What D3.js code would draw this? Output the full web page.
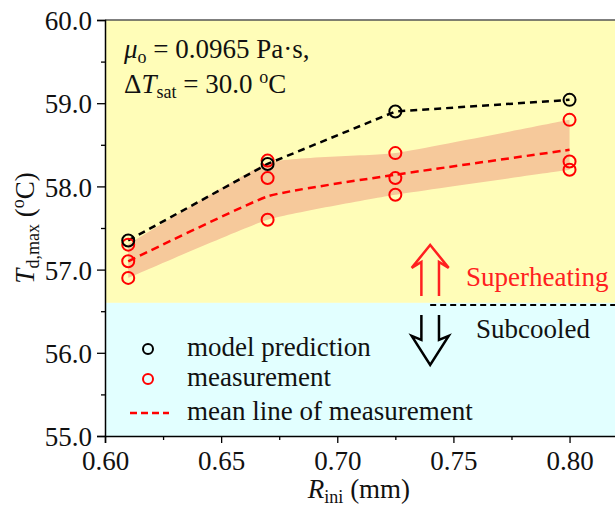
<!DOCTYPE html>
<html>
<head>
<meta charset="utf-8">
<script src="https://cdn.jsdelivr.net/npm/d3@7"></script>
<style>
  html, body { margin: 0; padding: 0; background: #ffffff; }
  svg { display: block; }
</style>
</head>
<body>
<svg id="chart" width="615" height="520"></svg>
<script>
// ---- data ----
const radius = [0.61, 0.67, 0.725, 0.80];            // R_ini (mm)
const modelPrediction = [57.35, 58.27, 58.90, 59.04]; // T_d,max model
const measurementHigh = [57.30, 58.31, 58.40, 58.80];
const measurementMid  = [57.10, 58.10, 58.10, 58.30];
const measurementLow  = [56.90, 57.60, 57.90, 58.20];
const meanLine  = [57.10, 57.88, 58.14, 58.44];
const bandUpper = [57.30, 58.28, 58.40, 58.80];
const bandLower = [56.90, 57.60, 57.90, 58.20];
const superheatLimit = 56.6;     // boundary between regions
const arrowR = 0.74;             // arrow position
const yTicks = [55, 56, 57, 58, 59, 60];
const yMinorTicks = [55.5, 56.5, 57.5, 58.5, 59.5];
const xTicks = [0.60, 0.65, 0.70, 0.75, 0.80];
const xMinorTicks = [0.625, 0.675, 0.725, 0.775];
const legendLabels = ["model prediction", "measurement", "mean line of measurement"];

(function () {
const svg = d3.select("#chart");
const pL = 105, pR = 616, pT = 20, pB = 436;
const x = d3.scaleLinear().domain([0.60, 0.82]).range([pL, pR]);
const y = d3.scaleLinear().domain([55, 60]).range([pB, pT]);
const FONT = 27, SUB = 18;
const SERIF = '"Liberation Serif", "Times New Roman", serif';
const smooth = d3.curveCardinal.tension(0.6);

// background regions
svg.append("rect").attr("x", pL).attr("y", y(60))
  .attr("width", pR - pL).attr("height", y(superheatLimit) - y(60))
  .attr("fill", "#FFFDB8");
svg.append("rect").attr("x", pL).attr("y", y(superheatLimit))
  .attr("width", pR - pL).attr("height", y(55) - y(superheatLimit))
  .attr("fill", "#E2FFFF");

// band
const band = d3.area().curve(smooth)
  .x((d, i) => x(radius[i]))
  .y0((d, i) => y(bandLower[i]))
  .y1((d, i) => y(bandUpper[i]));
svg.append("path").datum(radius).attr("d", band).attr("fill", "#F6C99B");

// model line
const lineModel = d3.line().x((d, i) => x(radius[i])).y(d => y(d));
svg.append("path").datum(modelPrediction).attr("d", lineModel)
  .attr("fill", "none").attr("stroke", "#000").attr("stroke-width", 2.5)
  .attr("stroke-dasharray", "7,5");

// mean line
const lineMean = d3.line().curve(smooth).x((d, i) => x(radius[i])).y(d => y(d));
svg.append("path").datum(meanLine).attr("d", lineMean)
  .attr("fill", "none").attr("stroke", "#FF0000").attr("stroke-width", 2.5)
  .attr("stroke-dasharray", "8,5");

// measurement circles
[measurementHigh, measurementMid, measurementLow].forEach(series => {
  svg.append("g").selectAll("circle").data(series).join("circle")
    .attr("cx", (d, i) => x(radius[i])).attr("cy", d => y(d)).attr("r", 6)
    .attr("fill", "none").attr("stroke", "#FF0000").attr("stroke-width", 2);
});
// model circles
svg.append("g").selectAll("circle").data(modelPrediction).join("circle")
  .attr("cx", (d, i) => x(radius[i])).attr("cy", d => y(d)).attr("r", 6)
  .attr("fill", "none").attr("stroke", "#000").attr("stroke-width", 2);

// dashed boundary marker + arrows
const yb = y(superheatLimit);
svg.append("line").attr("x1", x(arrowR)).attr("x2", pR).attr("y1", yb + 2).attr("y2", yb + 2)
  .attr("stroke", "#000").attr("stroke-width", 2).attr("stroke-dasharray", "6,4");
const ax = x(arrowR);
const upArrow = [[-8.8, yb - 7], [-8.8, yb - 41], [-18.5, yb - 35], [0, yb - 58],
                 [18.5, yb - 35], [8.8, yb - 41], [8.8, yb - 7]];
const downArrow = [[-8.8, yb + 12], [-8.8, yb + 37], [-18.5, yb + 33], [0, yb + 62],
                   [18.5, yb + 33], [8.8, yb + 37], [8.8, yb + 12]];
const arrowLine = d3.line().x(d => ax + d[0]).y(d => d[1]);
svg.append("path").attr("d", arrowLine(upArrow)).attr("fill", "none")
  .attr("stroke", "#FF2020").attr("stroke-width", 2.5).attr("stroke-linejoin", "miter");
svg.append("path").attr("d", arrowLine(downArrow)).attr("fill", "none")
  .attr("stroke", "#000").attr("stroke-width", 2.5).attr("stroke-linejoin", "miter");

svg.append("text").attr("x", 466).attr("y", 286).attr("font-size", FONT)
  .attr("fill", "#FF2020").text("Superheating");
svg.append("text").attr("x", 476).attr("y", 338).attr("font-size", FONT)
  .attr("fill", "#111").text("Subcooled");

// top frame line
svg.append("line").attr("x1", pL).attr("x2", pR).attr("y1", pT).attr("y2", pT)
  .attr("stroke", "#555").attr("stroke-width", 1.5);

// axes
const yAxis = svg.append("g").attr("transform", `translate(${pL},0)`)
  .call(d3.axisLeft(y).tickValues(yTicks).tickFormat(d3.format(".1f")).tickSize(8).tickPadding(5));
svg.append("g").attr("transform", `translate(${pL},0)`)
  .call(d3.axisLeft(y).tickValues(yMinorTicks).tickFormat("").tickSize(4))
  .select(".domain").remove();
const xAxis = svg.append("g").attr("transform", `translate(0,${pB})`)
  .call(d3.axisBottom(x).tickValues(xTicks).tickFormat(d3.format(".2f")).tickSize(7).tickPadding(8));
svg.append("g").attr("transform", `translate(0,${pB})`)
  .call(d3.axisBottom(x).tickValues(xMinorTicks).tickFormat("").tickSize(4))
  .select(".domain").remove();
svg.selectAll("g").attr("font-family", null);
svg.selectAll(".tick line").attr("stroke", "#000").attr("stroke-width", 1.3);
svg.selectAll(".domain").attr("stroke", "#000").attr("stroke-width", 1.5);
svg.selectAll(".tick text").attr("font-size", FONT).attr("fill", "#111");
xAxis.selectAll(".tick text").attr("dy", "0.71em");
yAxis.selectAll(".tick text").attr("dy", "0.36em");

// annotation
const ann1 = svg.append("text").attr("x", 124).attr("y", 58).attr("font-size", FONT).attr("fill", "#111");
ann1.append("tspan").attr("font-style", "italic").text("μ");
ann1.append("tspan").attr("font-size", SUB).attr("dy", 5).text("o");
ann1.append("tspan").attr("dy", -5).text(" = 0.0965 Pa·s,");
const ann2 = svg.append("text").attr("x", 124).attr("y", 93).attr("font-size", FONT).attr("fill", "#111");
ann2.append("tspan").text("Δ");
ann2.append("tspan").attr("font-style", "italic").text("T");
ann2.append("tspan").attr("font-size", SUB).attr("dy", 5).text("sat");
ann2.append("tspan").attr("dy", -5).text(" = 30.0 ");
ann2.append("tspan").attr("font-size", SUB).attr("dy", -10).text("o");
ann2.append("tspan").attr("dy", 10).text("C");

// axis titles
const xt = svg.append("text").attr("x", 359).attr("y", 498).attr("text-anchor", "middle")
  .attr("font-size", FONT).attr("fill", "#111");
xt.append("tspan").attr("font-style", "italic").text("R");
xt.append("tspan").attr("font-size", SUB).attr("dy", 5).text("ini");
xt.append("tspan").attr("dy", -5).text(" (mm)");

const yt = svg.append("text").attr("transform", "translate(34,228) rotate(-90)")
  .attr("text-anchor", "middle").attr("font-size", FONT).attr("fill", "#111");
yt.append("tspan").attr("font-style", "italic").text("T");
yt.append("tspan").attr("font-size", SUB).attr("dy", 5).text("d,max");
yt.append("tspan").attr("dy", -5).text(" (");
yt.append("tspan").attr("font-size", SUB).attr("dy", -10).text("o");
yt.append("tspan").attr("dy", 10).text("C)");

// legend
const legY = [349, 379, 413];
const leg = svg.append("g");
leg.append("circle").attr("cx", 148).attr("cy", legY[0]).attr("r", 5)
  .attr("fill", "none").attr("stroke", "#000").attr("stroke-width", 2);
leg.append("circle").attr("cx", 148).attr("cy", legY[1]).attr("r", 5)
  .attr("fill", "none").attr("stroke", "#FF0000").attr("stroke-width", 2);
leg.append("line").attr("x1", 130).attr("x2", 169).attr("y1", legY[2]).attr("y2", legY[2])
  .attr("stroke", "#FF0000").attr("stroke-width", 2.5).attr("stroke-dasharray", "7,4");
leg.selectAll("text.lbl").data(legendLabels).join("text").attr("class", "lbl")
  .attr("x", 187).attr("y", (d, i) => legY[i] + 7).attr("font-size", FONT).attr("fill", "#111")
  .text(d => d);

svg.selectAll("text").style("font-family", SERIF);
})();
</script>
</body>
</html>
